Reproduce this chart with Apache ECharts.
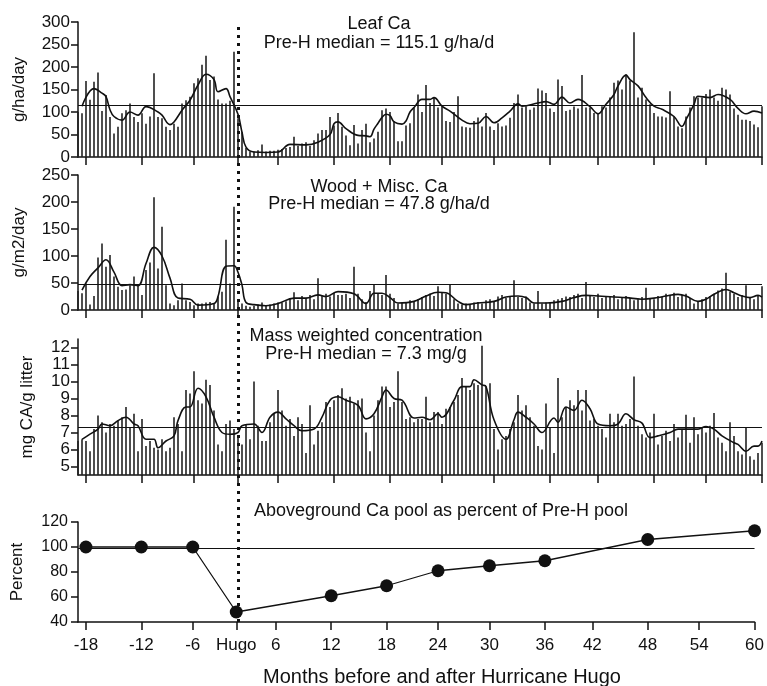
<!DOCTYPE html>
<html>
<head>
<meta charset="utf-8">
<script src="https://cdn.jsdelivr.net/npm/echarts@6/dist/echarts.min.js"></script>
<style>html,body{margin:0;padding:0;background:#fff}#c{width:767px;height:686px}</style>
</head>
<body>
<div id="c"></div>
<script>
// ---- Data (biweekly litterfall samples, index 0..171) ----
const leafCa = [100,97,169,127,167,188,102,138,89,52,67,97,104,119,89,78,97,74,90,186,89,86,67,60,74,67,119,126,134,164,175,205,225,171,179,128,119,119,125,234,86,55,20,12,12,15,28,12,14,14,16,18,20,22,45,25,30,33,25,37,52,60,60,89,70,98,67,48,26,71,30,60,74,33,41,56,104,108,100,80,35,35,70,75,110,139,100,160,120,132,110,113,80,78,100,135,68,66,65,80,88,68,98,68,60,75,68,70,87,120,139,110,113,105,110,152,148,142,108,100,172,158,102,105,112,108,182,110,110,98,98,113,110,132,165,170,150,184,170,277,132,154,128,117,98,90,90,88,146,90,68,64,90,110,135,132,132,140,150,132,125,154,150,139,108,94,83,83,80,72,66,113];
const leafLine = [[1,113],[4,152],[6,142],[7,134],[8,105],[9,90],[11,82],[13,100],[15,93],[17,112],[20,100],[21,93],[23,72],[24,78],[26,104],[28,126],[30,160],[32,184],[34,172],[35,145],[37,152],[38,134],[40,95],[41,55],[42,22],[44,11],[47,10],[50,11],[53,28],[57,27],[60,33],[63,50],[64,74],[65,78],[67,63],[70,48],[72,47],[73,45],[74,62],[75,75],[76,88],[77,95],[78,92],[79,78],[81,73],[82,80],[83,100],[84,110],[86,128],[88,128],[89,132],[91,113],[93,102],[96,82],[98,74],[100,75],[102,90],[104,76],[106,87],[108,102],[110,118],[111,113],[115,120],[117,123],[119,117],[121,133],[123,120],[125,128],[128,112],[130,96],[132,117],[134,139],[135,158],[137,182],[138,172],[140,158],[142,132],[144,113],[146,106],[149,90],[151,68],[152,83],[154,117],[155,135],[158,132],[160,139],[163,128],[165,108],[167,96],[169,102],[171,98]];
const leafMedian = 115.1;

const woodCa = [35,31,49,10,26,97,123,80,102,62,43,37,38,46,62,46,28,74,88,209,77,154,46,12,9,18,49,18,15,9,12,12,14,15,12,25,34,130,49,191,18,12,8,6,8,10,14,9,10,12,14,14,16,22,33,18,26,22,28,20,59,26,30,25,32,28,28,30,22,80,30,20,15,35,47,30,28,65,30,22,12,14,15,18,16,20,24,28,30,26,44,32,30,47,20,12,10,12,11,14,15,12,18,20,16,25,28,22,26,55,24,22,25,14,12,35,12,14,15,18,20,22,25,24,28,30,22,52,28,24,30,22,26,24,28,20,24,26,22,18,20,24,41,22,20,26,24,30,28,32,24,28,30,22,12,16,20,24,26,30,36,40,69,34,30,24,28,46,24,20,26,44];
const woodLine = [[1,37],[3,62],[5,78],[7,93],[9,70],[11,45],[13,47],[15,45],[17,86],[19,116],[21,100],[23,59],[25,22],[28,20],[30,9],[34,12],[35,25],[37,81],[39,82],[40,70],[41,46],[42,14],[44,10],[47,8],[50,12],[54,22],[57,22],[60,28],[62,25],[65,34],[69,30],[72,12],[74,31],[76,31],[78,23],[80,13],[84,16],[87,26],[90,33],[92,32],[95,16],[97,10],[100,13],[104,16],[107,24],[110,26],[112,23],[114,13],[117,13],[121,16],[124,23],[127,27],[130,26],[134,24],[137,23],[141,20],[145,23],[147,26],[150,29],[152,26],[155,16],[157,20],[159,29],[162,38],[164,32],[166,26],[168,23],[170,27],[171,24]];
const woodMedian = 47.8;

const concCa = [6.5,6.6,6.5,5.9,7.2,8.0,7.6,7.0,7.5,7.4,7.7,7.9,8.5,7.3,8.1,5.9,7.8,6.2,6.5,6.1,6.0,6.6,5.9,6.1,7.9,7.5,5.9,9.5,9.3,10.6,8.9,8.7,10.1,9.8,8.3,6.3,5.9,7.5,7.7,7.2,6.8,6.3,7.5,6.6,10.0,7.4,6.5,6.5,7.6,8.1,9.5,8.3,7.4,7.8,6.8,7.9,7.5,5.8,8.6,6.3,7.1,7.6,8.8,8.5,8.9,9.2,9.6,9.0,9.1,8.7,8.9,9.0,7.0,5.9,8.0,8.9,9.7,9.7,8.5,8.8,10.6,8.8,7.8,7.9,7.6,7.8,7.8,9.1,7.6,8.2,8.2,7.5,8.4,8.5,8.8,9.2,10.2,9.7,9.5,9.9,9.8,12.1,9.7,9.9,7.2,6.0,6.6,6.8,7.2,7.6,9.2,8.3,8.6,7.9,7.4,6.2,6.0,8.7,7.3,5.8,10.2,7.9,8.5,8.9,8.6,9.5,8.3,9.5,7.7,7.8,7.4,7.2,6.7,8.1,7.6,8.1,7.4,7.5,7.8,10.3,7.4,6.9,6.7,7.0,8.1,6.3,6.8,7.1,6.5,7.5,6.7,7.2,8.05,6.4,7.9,6.9,7.3,7.0,7.4,8.15,6.7,6.4,5.9,7.6,6.8,5.9,5.7,7.3,5.6,5.4,5.8,6.4];
const concLine = [[1,6.6],[3,6.9],[5,7.2],[6,7.5],[8,7.4],[10,7.7],[12,7.9],[14,7.5],[15,7.4],[17,6.6],[19,6.6],[20,6.1],[22,6.5],[24,6.8],[25,7.7],[27,8.5],[28,8.5],[30,9.6],[32,9.1],[34,7.9],[36,7.0],[38,6.9],[40,7.0],[41,7.4],[44,7.5],[46,7.0],[48,7.9],[50,8.2],[52,7.8],[54,7.4],[56,7.1],[59,7.2],[61,7.9],[63,8.9],[65,9.1],[67,8.9],[70,8.6],[72,7.8],[74,8.1],[76,9.1],[77,9.5],[79,9.0],[81,8.9],[84,7.85],[86,7.9],[88,7.75],[90,8.1],[91,7.9],[94,8.9],[96,9.7],[98,9.7],[99,10.1],[101,9.8],[102,9.7],[104,7.75],[107,6.6],[109,7.75],[110,8.2],[112,7.9],[114,7.5],[116,7.0],[119,7.85],[120,7.6],[122,8.5],[124,8.3],[126,8.9],[128,8.4],[130,7.5],[133,7.4],[135,7.5],[137,8.1],[139,7.75],[141,7.55],[143,6.7],[145,6.8],[148,7.0],[150,7.2],[153,7.2],[155,7.2],[157,7.35],[159,7.2],[161,6.8],[164,6.4],[165,6.3],[167,5.9],[169,6.2],[170,6.2],[171,6.5]];
const concMedian = 7.3;
const concTicks = [5,6,7,8,9,10,11,12];

// month tick labels and the sample index at which each falls
const tickMonths = ['-18','-12','-6','Hugo','6','12','18','24','30','36','42','48','54','60'];
const tickSample = [2,16,29,40,50,64,78,91,104,118,130,144,157,171];

// aboveground Ca pool (% of pre-Hugo)
const poolMonths = ['-18','-12','-6','Hugo','12','18','24','30','36','48','60'];
const poolPct = [100,100,100,48,61,69,81,85,89,106,113];
const poolRef = 99;

// ---- Build ----
const sampleNo = leafCa.map((_, i) => String(i));
const tickSet = new Set(tickSample);
const labelAt = {};
tickSample.forEach((s, k) => { labelAt[s] = tickMonths[k]; });
const hugoIdx = tickSample[tickMonths.indexOf('Hugo')];
const poolData = poolMonths.map((m, k) => [tickSample[tickMonths.indexOf(m)], poolPct[k]]);

const F = "'Liberation Sans', Arial, sans-serif";
const ink = '#111';
const L = 78, R = 5;

function xAx(g, show) {
  return {
    type: 'category', gridIndex: g, data: sampleNo, boundaryGap: false,
    axisLine: { show: true, lineStyle: { color: ink, width: 1.5 } },
    axisTick: { show: true, interval: (i) => tickSet.has(i), length: 8, lineStyle: { color: ink, width: 1.5 } },
    axisLabel: { show: show, interval: (i) => tickSet.has(i), formatter: (v, i) => labelAt[i] || '',
      color: ink, fontFamily: F, fontSize: 17, margin: 15 },
    splitLine: { show: false }
  };
}
function yAx(g, o) {
  return Object.assign({
    type: 'value', gridIndex: g, nameLocation: 'middle',
    nameTextStyle: { color: ink, fontFamily: F, fontSize: 17 },
    axisLine: { show: true, lineStyle: { color: ink, width: 1.5 } },
    axisTick: { show: true, length: 7, lineStyle: { color: ink, width: 1.5 } },
    axisLabel: { color: ink, fontFamily: F, fontSize: 17, margin: 8 },
    splitLine: { show: false }
  }, o);
}
function med(v) {
  return { silent: true, symbol: 'none', label: { show: false },
    lineStyle: { color: ink, width: 1.2, type: 'solid' }, data: [{ yAxis: v }] };
}
const barStyle = { color: '#222' };
const lineStyle = { color: ink, width: 1.6 };
function txt(t, x, y, size) {
  return { type: 'text', x: x, y: y, style: { text: t, font: size + 'px ' + F, fill: ink, textAlign: 'center', textVerticalAlign: 'middle' } };
}

const option = {
  animation: false,
  backgroundColor: '#fff',
  grid: [
    { left: L, right: R, top: 22, height: 135, containLabel: false },
    { left: L, right: R, top: 175, height: 135, containLabel: false },
    { left: L, right: R, top: 339, height: 136, containLabel: false },
    { left: L, right: R, top: 522, height: 100, containLabel: false },
    { left: L, right: R, top: 22, height: 600, containLabel: false }
  ],
  xAxis: [xAx(0, false), xAx(1, false), xAx(2, false), xAx(3, true),
    { type: 'category', gridIndex: 4, data: sampleNo, boundaryGap: false, show: false }],
  yAxis: [
    yAx(0, { min: 0, max: 300, interval: 50, name: 'g/ha/day', nameGap: 50 }),
    yAx(1, { min: 0, max: 250, interval: 50, name: 'g/m2/day', nameGap: 50 }),
    yAx(2, { min: 4.5, max: 12.5, name: 'mg CA/g litter', nameGap: 42,
      axisLabel: { color: ink, fontFamily: F, fontSize: 17, margin: 8, customValues: concTicks },
      axisTick: { show: true, length: 7, lineStyle: { color: ink, width: 1.5 }, customValues: concTicks } }),
    yAx(3, { min: 40, max: 120, interval: 20, name: 'Percent', nameGap: 52,
      axisLabel: { color: ink, fontFamily: F, fontSize: 16, margin: 10 } }),
    { type: 'value', gridIndex: 4, min: 0, max: 1, show: false }
  ],
  series: [
    { type: 'bar', xAxisIndex: 0, yAxisIndex: 0, data: leafCa, barWidth: 1.6, itemStyle: barStyle, markLine: med(leafMedian) },
    { type: 'line', xAxisIndex: 0, yAxisIndex: 0, data: leafLine, smooth: 0.4, symbol: 'none', lineStyle: lineStyle },
    { type: 'bar', xAxisIndex: 1, yAxisIndex: 1, data: woodCa, barWidth: 1.6, itemStyle: barStyle, markLine: med(woodMedian) },
    { type: 'line', xAxisIndex: 1, yAxisIndex: 1, data: woodLine, smooth: 0.4, symbol: 'none', lineStyle: lineStyle },
    { type: 'bar', xAxisIndex: 2, yAxisIndex: 2, data: concCa, barWidth: 1.6, itemStyle: barStyle, markLine: med(concMedian) },
    { type: 'line', xAxisIndex: 2, yAxisIndex: 2, data: concLine, smooth: 0.4, symbol: 'none', lineStyle: lineStyle },
    { type: 'line', xAxisIndex: 3, yAxisIndex: 3, data: poolData, symbol: 'circle', symbolSize: 13,
      itemStyle: { color: ink }, lineStyle: { color: ink, width: 1.3 }, markLine: med(poolRef) },
    { type: 'line', xAxisIndex: 4, yAxisIndex: 4, data: [], symbol: 'none',
      markLine: { silent: true, symbol: 'none', label: { show: false },
        lineStyle: { color: ink, width: 3, type: [3, 5] }, data: [{ xAxis: hugoIdx }] } }
  ],
  graphic: [
    txt('Leaf Ca', 379, 24, 18),
    txt('Pre-H median = 115.1 g/ha/d', 379, 43, 18),
    txt('Wood + Misc. Ca', 379, 187, 18),
    txt('Pre-H median = 47.8 g/ha/d', 379, 204, 18),
    txt('Mass weighted concentration', 366, 336, 18),
    txt('Pre-H median = 7.3 mg/g', 366, 354, 18),
    txt('Aboveground Ca pool as percent of Pre-H pool', 441, 511, 18),
    txt('Months before and after Hurricane Hugo', 442, 677, 20)
  ]
};
const chart = echarts.init(document.getElementById('c'), null, { renderer: 'canvas' });
chart.setOption(option);
</script>
</body>
</html>
